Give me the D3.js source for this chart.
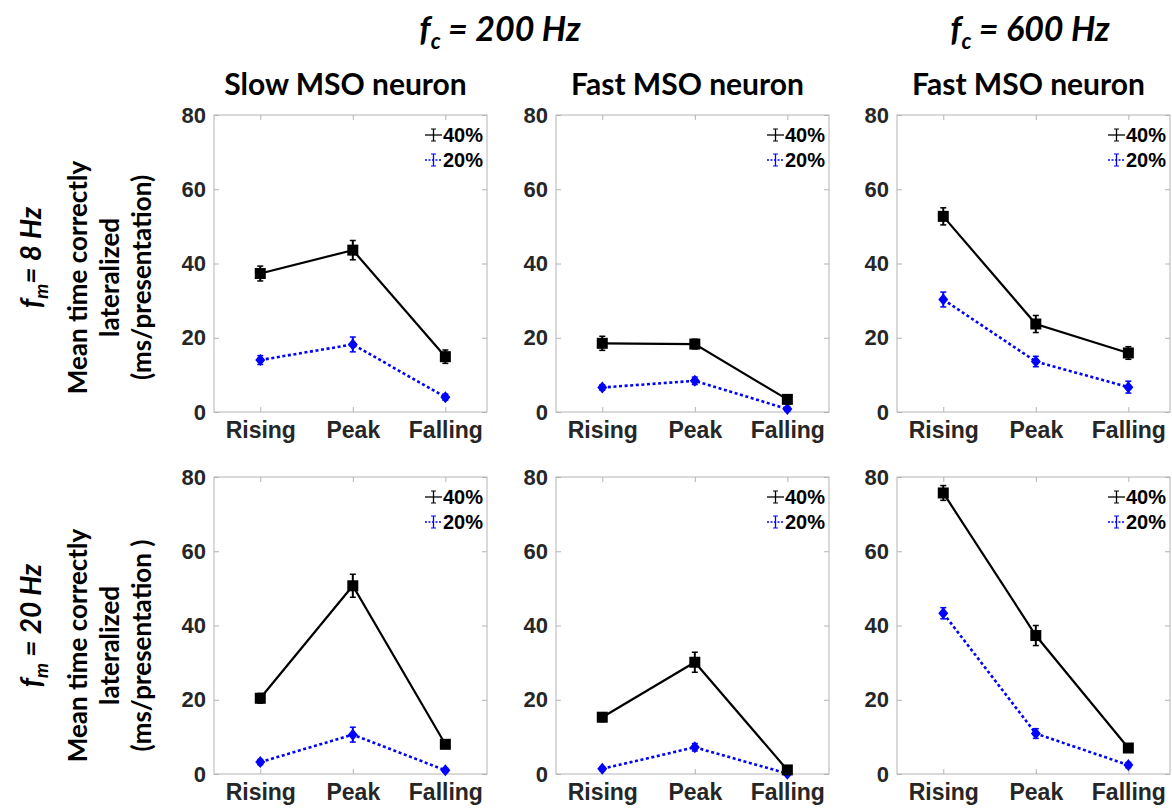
<!DOCTYPE html>
<html>
<head>
<meta charset="utf-8">
<script src="https://cdn.jsdelivr.net/npm/d3@7"></script>
<style>
  html, body { margin: 0; padding: 0; background: #fff; }
  svg { display: block; }
</style>
</head>
<body>
<svg id="chart" width="1172" height="812"></svg>
<script>
// ---------- DATA ----------
const categories = ["Rising", "Peak", "Falling"];
const seriesLabels = ["40%", "20%"];
const yTicks = [0, 20, 40, 60, 80];

const colTitles = ["Slow MSO neuron", "Fast MSO neuron", "Fast MSO neuron"];
const carrierTitles = ["200 Hz", "600 Hz"];
const rowTitles = ["8 Hz", "20 Hz"];
const yLabelLinesTop = ["Mean time correctly", "lateralized", "(ms/presentation)"];
const yLabelLinesBottom = ["Mean time correctly", "lateralized", "(ms/presentation )"];

// fm = 8 Hz
const slow200_fm8_40 = [37.3, 43.6, 14.9];
const slow200_fm8_40err = [2.0, 2.6, 1.8];
const slow200_fm8_20 = [14.0, 18.2, 4.0];
const slow200_fm8_20err = [1.2, 2.0, 0.8];

const fast200_fm8_40 = [18.5, 18.3, 3.4];
const fast200_fm8_40err = [1.9, 1.3, 1.2];
const fast200_fm8_20 = [6.6, 8.4, 0.8];
const fast200_fm8_20err = [0.7, 1.0, 0.6];

const fast600_fm8_40 = [52.7, 23.7, 15.9];
const fast600_fm8_40err = [2.3, 2.3, 1.7];
const fast600_fm8_20 = [30.3, 13.6, 6.7];
const fast600_fm8_20err = [2.0, 1.4, 1.6];

// fm = 20 Hz
const slow200_fm20_40 = [20.4, 50.7, 8.0];
const slow200_fm20_40err = [1.3, 3.1, 1.0];
const slow200_fm20_20 = [3.2, 10.6, 1.0];
const slow200_fm20_20err = [0.7, 2.0, 0.5];

const fast200_fm20_40 = [15.3, 30.1, 1.1];
const fast200_fm20_40err = [1.2, 2.7, 0.6];
const fast200_fm20_20 = [1.4, 7.2, 0.1];
const fast200_fm20_20err = [0.5, 1.0, 0.3];

const fast600_fm20_40 = [75.7, 37.3, 7.0];
const fast600_fm20_40err = [2.0, 2.7, 0.8];
const fast600_fm20_20 = [43.3, 10.9, 2.4];
const fast600_fm20_20err = [1.5, 1.3, 0.7];

const panels = [
  {row: 0, col: 0, s40: slow200_fm8_40, e40: slow200_fm8_40err, s20: slow200_fm8_20, e20: slow200_fm8_20err},
  {row: 0, col: 1, s40: fast200_fm8_40, e40: fast200_fm8_40err, s20: fast200_fm8_20, e20: fast200_fm8_20err},
  {row: 0, col: 2, s40: fast600_fm8_40, e40: fast600_fm8_40err, s20: fast600_fm8_20, e20: fast600_fm8_20err},
  {row: 1, col: 0, s40: slow200_fm20_40, e40: slow200_fm20_40err, s20: slow200_fm20_20, e20: slow200_fm20_20err},
  {row: 1, col: 1, s40: fast200_fm20_40, e40: fast200_fm20_40err, s20: fast200_fm20_20, e20: fast200_fm20_20err},
  {row: 1, col: 2, s40: fast600_fm20_40, e40: fast600_fm20_40err, s20: fast600_fm20_20, e20: fast600_fm20_20err}
];

// ---------- LAYOUT ----------
const colX = [214, 556, 897];
const boxW = 273;
const rowY = [115, 477];
const boxH = 297;

const svg = d3.select("#chart");
const tickFont = "Arial, 'Liberation Sans', sans-serif";
const titleFont = "Lato, 'Open Sans', sans-serif";
const boxColor = "#b4b4b4";
const textColor = "#262626";

// Top carrier titles
const carrierX = [500, 1030];
carrierTitles.forEach((t, i) => {
  const tx = svg.append("text")
    .attr("x", carrierX[i]).attr("y", 41)
    .attr("text-anchor", "middle")
    .attr("font-family", titleFont)
    .attr("font-weight", 700).attr("font-style", "italic")
    .attr("font-size", 34).attr("fill", "#000");
  tx.append("tspan").text("f");
  tx.append("tspan").text("c").attr("font-size", 22).attr("dy", 8);
  tx.append("tspan").text(" = " + t).attr("dy", -8);
});

// Column titles
colTitles.forEach((t, i) => {
  svg.append("text")
    .attr("x", colX[i] + boxW / 2 - 5).attr("y", 95)
    .attr("text-anchor", "middle")
    .attr("font-family", titleFont).attr("font-weight", 700)
    .attr("font-size", 30).attr("fill", "#000")
    .text(t);
});

// Row labels
rowTitles.forEach((t, r) => {
  const cy = rowY[r] + boxH / 2 - 6 + (r === 1 ? 6 : 0);
  const g = svg.append("g").attr("transform", `translate(41,${cy}) rotate(-90)`);
  const tx = g.append("text")
    .attr("x", 0).attr("y", 0)
    .attr("text-anchor", "middle")
    .attr("font-family", titleFont)
    .attr("font-weight", 700).attr("font-style", "italic")
    .attr("font-size", 28).attr("fill", "#000");
  tx.append("tspan").text("f");
  tx.append("tspan").text("m").attr("font-size", 19).attr("dy", 7);
  tx.append("tspan").text(r === 0 ? "= " + t : " = " + t).attr("dy", -7);

  const lines = r === 0 ? yLabelLinesTop : yLabelLinesBottom;
  const g2 = svg.append("g").attr("transform", `translate(0,${cy + 20}) rotate(-90)`);
  lines.forEach((ln, k) => {
    g2.append("text")
      .attr("x", 0).attr("y", 87 + k * 32)
      .attr("text-anchor", "middle")
      .attr("font-family", titleFont).attr("font-weight", 700)
      .attr("font-size", 26).attr("fill", "#000")
      .text(ln);
  });
});

// Panels
panels.forEach(p => {
  const x0 = colX[p.col], y0 = rowY[p.row];
  const g = svg.append("g").attr("transform", `translate(${x0},${y0})`);
  const x = d3.scaleLinear().domain([0.5, 3.45]).range([0, boxW]);
  const y = d3.scaleLinear().domain([0, 80]).range([boxH, 0]);
  const xi = i => x(i + 1);

  // box
  g.append("rect").attr("x", 0).attr("y", 0).attr("width", boxW).attr("height", boxH)
    .attr("fill", "none").attr("stroke", boxColor).attr("stroke-width", 1);

  // y axis left
  const yAx = g.append("g").call(d3.axisLeft(y).tickValues(yTicks).tickSize(-5).tickPadding(8).tickFormat(d3.format("d")));
  yAx.select(".domain").remove();
  yAx.selectAll("line").attr("stroke", boxColor);
  yAx.selectAll("text").attr("font-family", tickFont).attr("font-weight", 700)
    .attr("font-size", 22).attr("fill", textColor);
  // y axis right (ticks only)
  const yAxR = g.append("g").attr("transform", `translate(${boxW},0)`)
    .call(d3.axisRight(y).tickValues(yTicks).tickSize(-5).tickFormat(""));
  yAxR.select(".domain").remove();
  yAxR.selectAll("line").attr("stroke", boxColor);

  // x axis bottom
  const xAx = g.append("g").attr("transform", `translate(0,${boxH})`)
    .call(d3.axisBottom(x).tickValues([1, 2, 3]).tickSize(-5).tickPadding(10).tickFormat(d => categories[d - 1]));
  xAx.select(".domain").remove();
  xAx.selectAll("line").attr("stroke", boxColor);
  xAx.selectAll("text").attr("font-family", tickFont).attr("font-weight", 700)
    .attr("font-size", 23).attr("fill", textColor);
  // x axis top ticks
  const xAxT = g.append("g")
    .call(d3.axisTop(x).tickValues([1, 2, 3]).tickSize(-5).tickFormat(""));
  xAxT.select(".domain").remove();
  xAxT.selectAll("line").attr("stroke", boxColor);

  const series = [
    {vals: p.s20, errs: p.e20, color: "#0000ff", dash: "3,2.6", width: 2.6, marker: "diamond"},
    {vals: p.s40, errs: p.e40, color: "#000000", dash: null, width: 2.2, marker: "square"}
  ];

  series.forEach(s => {
    const line = d3.line().x((d, i) => xi(i)).y(d => y(d));
    g.append("path").datum(s.vals)
      .attr("d", line).attr("fill", "none")
      .attr("stroke", s.color).attr("stroke-width", s.width)
      .attr("stroke-dasharray", s.dash);
    // error bars
    s.vals.forEach((v, i) => {
      const cx = xi(i), top = y(v + s.errs[i]), bot = y(v - s.errs[i]);
      g.append("line").attr("x1", cx).attr("x2", cx).attr("y1", top).attr("y2", bot)
        .attr("stroke", s.color).attr("stroke-width", 2);
      [top, bot].forEach(yy => {
        g.append("line").attr("x1", cx - 3).attr("x2", cx + 3).attr("y1", yy).attr("y2", yy)
          .attr("stroke", s.color).attr("stroke-width", 1.5);
      });
      if (s.marker === "square") {
        g.append("rect").attr("x", cx - 5.5).attr("y", y(v) - 5.5).attr("width", 11).attr("height", 11)
          .attr("fill", s.color);
      } else {
        g.append("path")
          .attr("d", `M${cx},${y(v) - 6}L${cx + 5},${y(v)}L${cx},${y(v) + 6}L${cx - 5},${y(v)}Z`)
          .attr("fill", s.color);
      }
    });
  });

  // legend
  const leg = g.append("g").attr("transform", `translate(${boxW - 62},20)`);
  const legSeries = [
    {label: seriesLabels[0], color: "#000", dash: null},
    {label: seriesLabels[1], color: "#0000ff", dash: "2,1.5"}
  ];
  legSeries.forEach((ls, k) => {
    const ly = k * 25;
    leg.append("line").attr("x1", 0).attr("x2", 17).attr("y1", ly).attr("y2", ly)
      .attr("stroke", ls.color).attr("stroke-width", 1.3).attr("stroke-dasharray", ls.dash);
    leg.append("line").attr("x1", 8.5).attr("x2", 8.5).attr("y1", ly - 6).attr("y2", ly + 6)
      .attr("stroke", ls.color).attr("stroke-width", 1.3);
    [ly - 6, ly + 6].forEach(yy => {
      leg.append("line").attr("x1", 6).attr("x2", 11).attr("y1", yy).attr("y2", yy)
        .attr("stroke", ls.color).attr("stroke-width", 1);
    });
    leg.append("text").attr("x", 18).attr("y", ly + 7)
      .attr("font-family", tickFont).attr("font-weight", 700)
      .attr("font-size", 20).attr("fill", "#000")
      .text(ls.label);
  });
});
</script>
</body>
</html>
